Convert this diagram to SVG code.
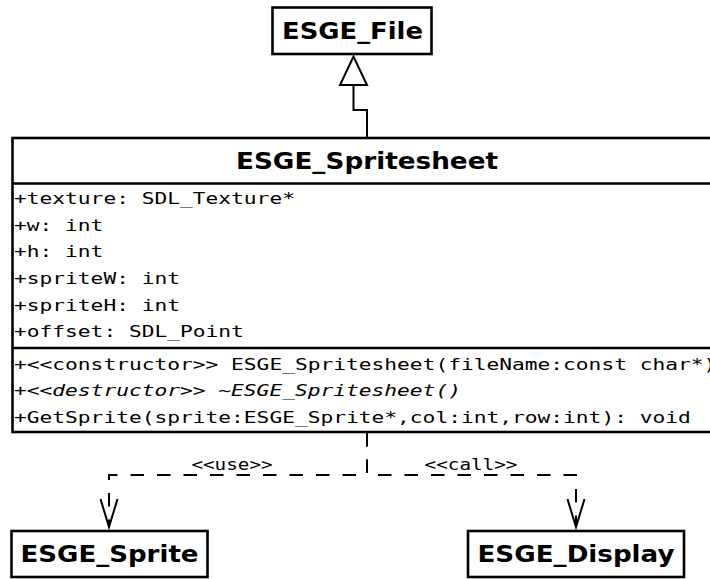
<svg xmlns="http://www.w3.org/2000/svg" width="710" height="579" viewBox="0 0 710 579">
  <style>
    .box { fill: #ffffff; stroke: #000000; stroke-width: 2.6; }
    .sep { stroke: #000000; stroke-width: 2.6; fill: none; }
    .name { font-family: "DejaVu Sans", "Liberation Sans", sans-serif; font-weight: bold; font-size: 22.6px; fill: #000000; text-anchor: middle; }
    .member { font-family: "DejaVu Sans Mono", "Liberation Mono", monospace; font-size: 16.5px; fill: #000000; }
    .label { font-family: "DejaVu Sans Mono", "Liberation Mono", monospace; font-size: 15px; fill: #000000; text-anchor: middle; }
    .it { font-style: italic; }
    .line { fill: none; stroke: #000000; stroke-width: 2; }
    .dash { fill: none; stroke: #000000; stroke-width: 2; stroke-dasharray: 13.5 13; }
  </style>
  <defs>
    <marker id="openArrow" markerUnits="userSpaceOnUse" markerWidth="24" markerHeight="34" refX="12" refY="30" orient="0" overflow="visible">
      <path d="M3.5,2 L12,30 L20.5,2" fill="none" stroke="#000000" stroke-width="2"/>
    </marker>
  </defs>

  <rect x="0" y="0" width="710" height="579" fill="#ffffff"/>

  <!-- connectors -->
  <g id="connectors">
    <!-- generalization: ESGE_Spritesheet -> ESGE_File -->
    <path class="line" d="M353.5,85 V110 H367 V137"/>
    <polygon points="353.5,56.5 340,85 367,85" fill="#ffffff" stroke="#000000" stroke-width="2"/>
    <!-- <<use>> dependency -->
    <path class="dash" d="M367,433 V475 H109 V527" marker-end="url(#openArrow)"/>
    <!-- <<call>> dependency -->
    <path class="dash" d="M367,433 V475 H576 V527" marker-end="url(#openArrow)"/>
    <text class="label" transform="translate(232,470) scale(1.2856,1)">&lt;&lt;use&gt;&gt;</text>
    <text class="label" transform="translate(471,470) scale(1.2856,1)">&lt;&lt;call&gt;&gt;</text>
  </g>

  <!-- ESGE_File -->
  <g id="ESGE_File">
    <rect class="box" x="272.5" y="7.5" width="159" height="46.5"/>
    <text class="name" x="352.5" y="38.5" textLength="141" lengthAdjust="spacingAndGlyphs">ESGE_File</text>
  </g>

  <!-- ESGE_Spritesheet -->
  <g id="ESGE_Spritesheet">
    <rect class="box" x="12.5" y="138" width="712" height="294"/>
    <line class="sep" x1="12.5" y1="183.5" x2="724.5" y2="183.5"/>
    <line class="sep" x1="12.5" y1="348" x2="724.5" y2="348"/>
    <text class="name" x="367" y="168.5" textLength="262" lengthAdjust="spacingAndGlyphs">ESGE_Spritesheet</text>
    <g transform="translate(14,0) scale(1.2856,1)">
      <text class="member" x="0" y="204">+texture: SDL_Texture*</text>
      <text class="member" x="0" y="230.7">+w: int</text>
      <text class="member" x="0" y="257.4">+h: int</text>
      <text class="member" x="0" y="284.1">+spriteW: int</text>
      <text class="member" x="0" y="310.8">+spriteH: int</text>
      <text class="member" x="0" y="337.5">+offset: SDL_Point</text>
      <text class="member" x="0" y="370">+&lt;&lt;constructor&gt;&gt; ESGE_Spritesheet(fileName:const char*)</text>
      <text class="member" x="0" y="396.5">+&lt;&lt;<tspan class="it">destructor&gt;&gt; ~ESGE_Spritesheet()</tspan></text>
      <text class="member" x="0" y="423">+GetSprite(sprite:ESGE_Sprite*,col:int,row:int): void</text>
    </g>
  </g>

  <!-- ESGE_Sprite -->
  <g id="ESGE_Sprite">
    <rect class="box" x="11.5" y="531" width="196" height="46"/>
    <text class="name" x="109.5" y="562" textLength="178" lengthAdjust="spacingAndGlyphs">ESGE_Sprite</text>
  </g>

  <!-- ESGE_Display -->
  <g id="ESGE_Display">
    <rect class="box" x="468" y="531" width="216" height="46"/>
    <text class="name" x="576" y="562" textLength="197" lengthAdjust="spacingAndGlyphs">ESGE_Display</text>
  </g>
</svg>
